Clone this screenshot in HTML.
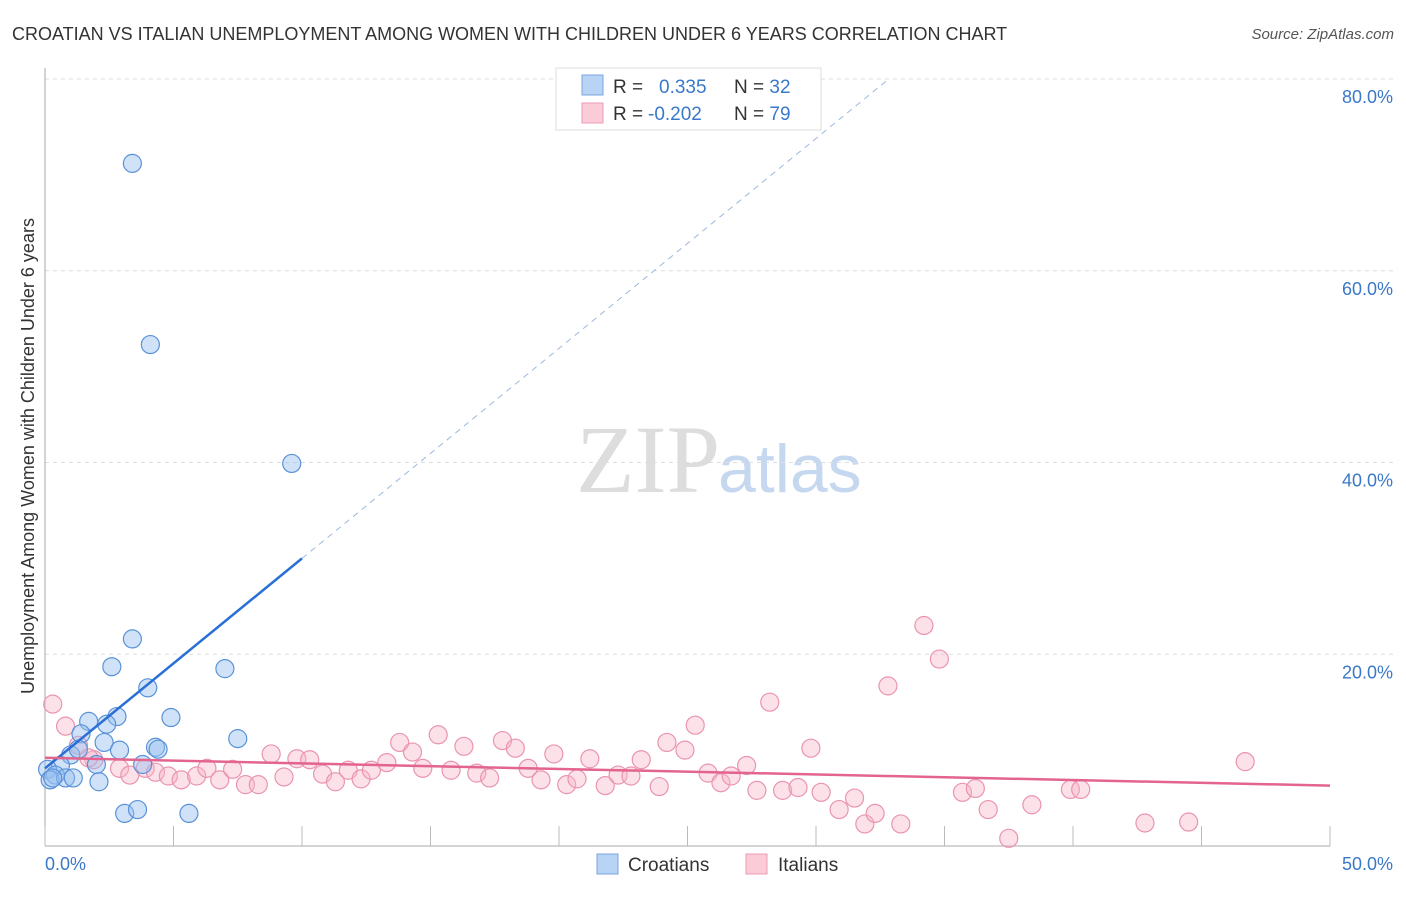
<!DOCTYPE html>
<html><head><meta charset="utf-8"><style>
body{margin:0;background:#fff;font-family:"Liberation Sans",sans-serif}
</style></head><body>
<svg id="chart" width="1406" height="892" font-family="Liberation Sans, sans-serif">
<text x="12" y="40" font-size="18" fill="#333">CROATIAN VS ITALIAN UNEMPLOYMENT AMONG WOMEN WITH CHILDREN UNDER 6 YEARS CORRELATION CHART</text>
<text x="1394" y="39" font-size="15" fill="#555" font-style="italic" text-anchor="end">Source: ZipAtlas.com</text>
<text x="720" y="492" font-size="96" fill="#ddd" text-anchor="end" font-family="Liberation Serif, serif">ZIP</text>
<text x="718" y="492" font-size="68" fill="#c6d8ef">atlas</text>
<g id="grid"></g>
<line x1="45" y1="68" x2="45" y2="846" stroke="#aaa"/>
<line x1="45" y1="846" x2="1330" y2="846" stroke="#aaa"/>
<g id="ticks"></g>
<text transform="translate(34,456) rotate(-90)" font-size="18" fill="#333" text-anchor="middle">Unemployment Among Women with Children Under 6 years</text>
<text x="45" y="870" font-size="18" fill="#3a78c9">0.0%</text>
<text x="1393" y="870" font-size="18" fill="#3a78c9" text-anchor="end">50.0%</text>
<g id="pts"></g>
<g id="lines"></g>
<g>
<rect x="556" y="68" width="265" height="62" fill="#fff" stroke="#ddd"/>
<rect x="582" y="75" width="21" height="20" fill="#b9d3f4" stroke="#7aa6e0"/>
<rect x="582" y="103" width="21" height="20" fill="#fbcbd8" stroke="#ec9db6"/>
<text x="613" y="93" font-size="19" fill="#333">R = <tspan fill="#3a78c9" x="659">0.335</tspan><tspan x="734" fill="#333">N = </tspan><tspan fill="#3a78c9">32</tspan></text>
<text x="613" y="120" font-size="19" fill="#333">R = <tspan fill="#3a78c9" x="648">-0.202</tspan><tspan x="734" fill="#333">N = </tspan><tspan fill="#3a78c9">79</tspan></text>
</g>
<g>
<rect x="597" y="854" width="21" height="20" fill="#b9d3f4" stroke="#7aa6e0"/>
<text x="628" y="871" font-size="19" fill="#333">Croatians</text>
<rect x="746" y="854" width="21" height="20" fill="#fbcbd8" stroke="#ec9db6"/>
<text x="778" y="871" font-size="19" fill="#333">Italians</text>
</g>
</svg>
<script>
const yTicks=[20,40,60,80];
const xTicks=[0,5,10,15,20,25,30,35,40,45,50];
const croX=[3.4,4.1,9.6,3.4,2.6,7.0,4.0,1.7,2.8,4.9,7.5,1.4,2.4,2.3,2.9,4.3,4.4,1.0,1.3,3.8,2.0,0.6,0.1,0.4,0.2,0.8,1.1,2.1,3.1,3.6,5.6,0.3];
const croY=[71.2,52.3,39.9,21.6,18.7,18.5,16.5,13.0,13.5,13.4,11.2,11.7,12.7,10.8,10.0,10.3,10.1,9.5,10.1,8.5,8.5,8.4,8.0,7.4,6.9,7.1,7.1,6.7,3.4,3.8,3.4,7.1];
const itaX=[0.3,0.8,1.3,1.9,1.7,2.9,3.3,3.9,4.3,4.8,5.3,5.9,6.3,6.8,7.3,7.8,8.3,8.8,9.3,9.8,10.3,10.8,11.3,11.8,12.3,12.7,13.3,13.8,14.3,14.7,15.3,15.8,16.3,16.8,17.3,17.8,18.3,18.8,19.3,19.8,20.3,20.7,21.2,21.8,22.3,22.8,23.2,23.9,24.2,24.9,25.3,25.8,26.3,26.7,27.3,27.7,28.2,28.7,29.3,29.8,30.2,30.9,31.5,31.9,32.3,32.8,33.3,34.2,34.8,35.7,36.2,36.7,37.5,38.4,39.9,40.3,42.8,44.5,46.7];
const itaY=[14.8,12.5,10.5,9.0,9.2,8.1,7.4,8.1,7.7,7.3,6.9,7.3,8.1,6.9,8.0,6.4,6.4,9.6,7.2,9.1,9.0,7.5,6.7,7.9,7.0,7.9,8.7,10.8,9.8,8.1,11.6,7.9,10.4,7.6,7.1,11.0,10.2,8.1,6.9,9.6,6.4,7.0,9.1,6.3,7.4,7.3,9.0,6.2,10.8,10.0,12.6,7.6,6.6,7.3,8.4,5.8,15.0,5.8,6.1,10.2,5.6,3.8,5.0,2.3,3.4,16.7,2.3,23.0,19.5,5.6,6.0,3.8,0.8,4.3,5.9,5.9,2.4,2.5,8.8];
const croTrend=[0,8.1,10,30];
const itaTrend=[0,9.2,50,6.3];
const NS='http://www.w3.org/2000/svg';
const sx=v=>45+v/50*1285, sy=v=>846-v/20*191.75;
function mk(p,t,a){const e=document.createElementNS(NS,t);for(const k in a)e.setAttribute(k,a[k]);document.getElementById(p).appendChild(e);return e;}
yTicks.forEach(v=>{
const l=mk('grid','line',{x1:45,x2:1393,y1:sy(v),y2:sy(v),stroke:'#ddd','stroke-dasharray':'4,4'});


const t=mk('grid','text',{x:1393,y:sy(v)+24,'font-size':18,fill:'#3a78c9','text-anchor':'end'});
t.textContent=v.toFixed(1)+'%';


});
xTicks.forEach(v=>{
const l=mk('ticks','line',{x1:sx(v),x2:sx(v),y1:826,y2:846,stroke:'#bbb'});


});
itaX.forEach((x,i)=>{
const c=mk('pts','circle',{cx:sx(x),cy:sy(itaY[i]),r:9,fill:'rgba(248,180,200,0.4)',stroke:'#ea94b0','stroke-width':1.2});


});
croX.forEach((x,i)=>{
const c=mk('pts','circle',{cx:sx(x),cy:sy(croY[i]),r:9,fill:'rgba(150,190,240,0.45)',stroke:'#5a92d8','stroke-width':1.2});


});
const slope=(croTrend[3]-croTrend[1])/(croTrend[2]-croTrend[0]);
const xEnd=(80-croTrend[1])/slope;
const d=mk('lines','line',{x1:sx(croTrend[2]),y1:sy(croTrend[3]),x2:sx(xEnd),y2:sy(80),stroke:'#9bb8e0','stroke-dasharray':'6,5','stroke-width':1});


const b=mk('lines','line',{x1:sx(croTrend[0]),y1:sy(croTrend[1]),x2:sx(croTrend[2]),y2:sy(croTrend[3]),stroke:'#2a6fd6','stroke-width':2.5});


const p=mk('lines','line',{x1:sx(itaTrend[0]),y1:sy(itaTrend[1]),x2:sx(itaTrend[2]),y2:sy(itaTrend[3]),stroke:'#e2648f','stroke-width':2.5});


</script>
</body></html>
